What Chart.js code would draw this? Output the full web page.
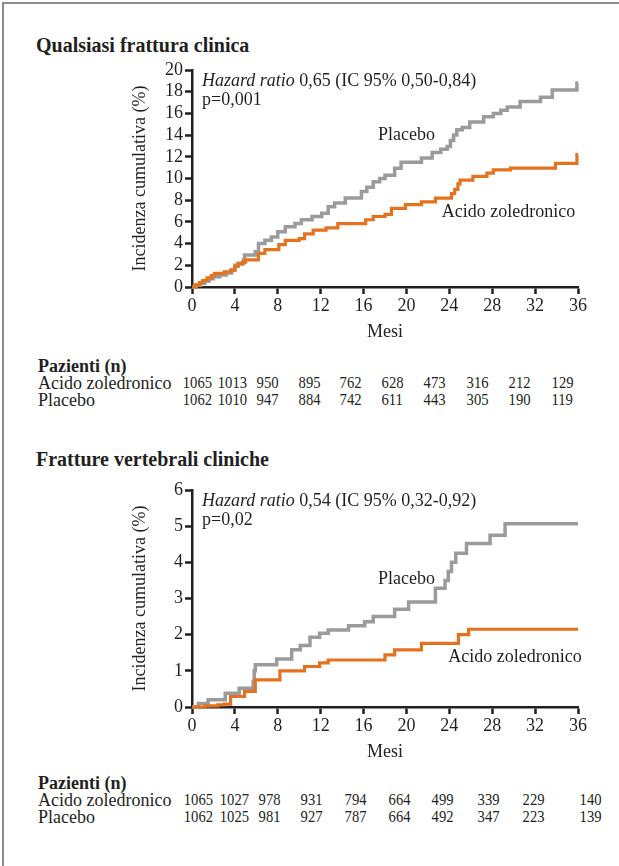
<!DOCTYPE html>
<html lang="it">
<head>
  <meta charset="UTF-8">
  <title>Incidenza cumulativa delle fratture</title>
  <script src="https://cdn.jsdelivr.net/npm/chart.js"></script>
  <style>
    body {
      margin: 0;
      background: #fff;
      font-family: 'Liberation Serif', 'Times New Roman', serif;
      color: #231f20;
    }
    .page {
      position: relative;
      width: 619px;
      height: 866px;
      overflow: hidden;
    }
    .frame {
      position: absolute;
      left: 2px;
      top: 2px;
      width: 640px;
      height: 900px;
      border-top: 2px solid #8c8c8c;
      border-left: 2px solid #8c8c8c;
    }
    .title {
      position: absolute;
      left: 36px;
      font-weight: bold;
      font-size: 20px;
      line-height: 20px;
      white-space: nowrap;
    }
    .chart {
      position: absolute;
      left: 0;
    }
    .row {
      position: absolute;
      left: 0;
      width: 619px;
      height: 18px;
      font-size: 18px;
      line-height: 18px;
      white-space: nowrap;
    }
    .row .lab {
      position: absolute;
      left: 38px;
    }
    .row .num {
      position: absolute;
      font-size: 17px;
      text-align: right;
      transform: scaleX(0.86);
      transform-origin: right center;
    }
    .row b {
      position: absolute;
      left: 38px;
    }
  </style>
</head>
<body>
<div class="page">
  <div class="frame"></div>

  <div class="title" style="top:35px">Qualsiasi frattura clinica</div>
  <canvas id="chart1" class="chart" style="top:0" width="619" height="345"></canvas>
  <div id="table1"></div>

  <div class="title" style="top:449px">Fratture vertebrali cliniche</div>
  <canvas id="chart2" class="chart" style="top:420px" width="619" height="345"></canvas>
  <div id="table2"></div>
</div>

<script>
  // --- Qualsiasi frattura clinica ---
  const anyMonthsZol = [0, 0.3, 0.7, 1.0, 1.4, 1.8, 2.1, 3.0, 3.6, 4.0, 4.3, 4.7, 5.0, 6.2, 6.8, 8.1, 8.7, 10.0, 10.5, 11.3, 12.5, 13.6, 16.2, 16.9, 18.0, 18.6, 19.9, 21.4, 22.7, 24.2, 24.5, 24.8, 25.0, 26.2, 27.5, 28.1, 29.7, 33.9, 35.9, 36];
  const anyZol       = [0, 0.2, 0.4, 0.6, 0.85, 1.05, 1.25, 1.4, 1.55, 1.9, 2.1, 2.3, 2.5, 3.1, 3.45, 3.9, 4.3, 4.45, 4.9, 5.25, 5.45, 5.85, 6.2, 6.5, 6.7, 7.25, 7.6, 7.85, 8.2, 8.6, 9.0, 9.5, 9.85, 10.2, 10.5, 10.8, 10.95, 11.4, 12.2, 12.2];
  const anyMonthsPla = [0, 0.4, 0.8, 1.2, 1.6, 2.0, 2.6, 3.2, 3.7, 4.0, 4.3, 4.8, 4.9, 5.9, 6.2, 6.8, 7.4, 8.0, 8.7, 9.6, 10.2, 11.2, 12.1, 12.7, 13.3, 14.3, 15.8, 16.3, 16.9, 17.5, 18.0, 18.9, 19.5, 21.4, 22.4, 23.2, 23.8, 24.1, 24.4, 24.7, 25.2, 25.9, 27.2, 28.1, 28.8, 29.4, 30.6, 32.5, 33.6, 35.9, 36];
  const anyPla       = [0, 0.15, 0.35, 0.55, 0.75, 0.95, 1.1, 1.3, 1.57, 2.0, 2.2, 2.5, 2.95, 3.25, 4.0, 4.3, 4.6, 5.1, 5.55, 5.85, 6.2, 6.5, 6.8, 7.4, 7.75, 8.2, 8.8, 9.2, 9.7, 10.0, 10.3, 10.95, 11.5, 11.9, 12.4, 12.7, 12.95, 13.5, 14.0, 14.5, 14.7, 15.2, 15.7, 16.0, 16.3, 16.6, 17.1, 17.5, 18.15, 18.8, 18.8];
  const anyRiskZol = [1065, 1013, 950, 895, 762, 628, 473, 316, 212, 129];
  const anyRiskPla = [1062, 1010, 947, 884, 742, 611, 443, 305, 190, 119];

  // --- Fratture vertebrali cliniche ---
  const vertMonthsZol = [0, 1.2, 2.4, 3.0, 3.6, 4.9, 5.9, 8.2, 10.5, 11.9, 12.7, 18.0, 18.9, 21.4, 24.85, 25.8, 36];
  const vertZol       = [0, 0.03, 0.06, 0.08, 0.29, 0.43, 0.75, 1.0, 1.12, 1.22, 1.3, 1.44, 1.58, 1.76, 2.0, 2.15, 2.15];
  const vertMonthsPla = [0, 0.6, 1.5, 3.1, 4.4, 5.7, 5.8, 5.9, 7.9, 9.3, 10.1, 11.0, 11.9, 12.7, 14.6, 16.1, 16.9, 18.9, 20.2, 22.7, 23.6, 23.9, 24.2, 24.6, 25.6, 27.8, 29.2, 36];
  const vertPla       = [0, 0.1, 0.2, 0.38, 0.52, 0.7, 1.0, 1.17, 1.33, 1.58, 1.7, 1.93, 2.04, 2.13, 2.25, 2.36, 2.5, 2.7, 2.9, 3.28, 3.5, 3.75, 4.0, 4.25, 4.52, 4.75, 5.07, 5.07];
  const vertRiskZol = [1065, 1027, 978, 931, 794, 664, 499, 339, 229, 140];
  const vertRiskPla = [1062, 1025, 981, 927, 787, 664, 492, 347, 223, 139];

  const monthTicks = [0, 4, 8, 12, 16, 20, 24, 28, 32, 36];

  const INK = '#231f20';
  const ORANGE = '#e5721f';
  const GREY = '#9b9b9d';
  const SERIF = "'Liberation Serif', 'Times New Roman', serif";

  function toPoints(xs, ys) {
    return xs.map((x, i) => ({ x: x, y: ys[i] }));
  }

  // text inside the plot: hazard ratio, p value and curve names
  const notesPlugin = {
    id: 'notes',
    afterDatasetsDraw(chart, args, opts) {
      const ctx = chart.ctx;
      const a = chart.chartArea;
      const xs = chart.scales.x, ys = chart.scales.y;
      ctx.save();
      ctx.fillStyle = INK;
      ctx.textBaseline = 'alphabetic';
      ctx.textAlign = 'left';
      ctx.font = 'italic 18px ' + SERIF;
      const x0 = a.left + 10;
      ctx.fillText('Hazard ratio', x0, a.top + 16);
      const w = ctx.measureText('Hazard ratio').width;
      ctx.font = '18px ' + SERIF;
      ctx.fillText(' ' + opts.hr, x0 + w, a.top + 16);
      ctx.fillText(opts.p, x0, a.top + 35);
      opts.labels.forEach(l => {
        ctx.fillText(l.text, xs.getPixelForValue(l.t), ys.getPixelForValue(l.v));
      });
      ctx.restore();
    }
  };

  function makeChart(id, zolX, zolY, plaX, plaY, yMax, yStep, notes) {
    const ctx = document.getElementById(id).getContext('2d');
    return new Chart(ctx, {
      type: 'line',
      data: {
        datasets: [{
          label: 'Acido zoledronico',
          data: toPoints(zolX, zolY),
          borderColor: ORANGE,
          borderWidth: 3.2,
          stepped: true,
          pointRadius: 0,
          fill: false,
          clip: 6
        }, {
          label: 'Placebo',
          data: toPoints(plaX, plaY),
          borderColor: GREY,
          borderWidth: 3.5,
          stepped: true,
          pointRadius: 0,
          fill: false,
          clip: 6
        }]
      },
      options: {
        responsive: false,
        animation: false,
        devicePixelRatio: 1,
        layout: { padding: { left: 120, right: 41, top: 70, bottom: 0 } },
        plugins: {
          legend: { display: false },
          tooltip: { enabled: false },
          notes: notes
        },
        scales: {
          x: {
            type: 'linear',
            min: 0,
            max: 36,
            afterFit: s => { s.height = 58; },
            afterBuildTicks: s => { s.ticks = monthTicks.map(v => ({ value: v })); },
            border: { display: true, color: INK, width: 2.5 },
            grid: { drawOnChartArea: false, drawTicks: true, tickLength: 7, tickWidth: 2.5, tickColor: INK },
            ticks: { color: INK, font: { family: SERIF, size: 18 }, padding: 1, maxRotation: 0, autoSkip: false },
            title: { display: true, text: 'Mesi', color: INK, font: { family: SERIF, size: 18 }, padding: { top: 0, bottom: 2 } }
          },
          y: {
            min: 0,
            max: yMax,
            afterFit: s => { s.width = 72; },
            border: { display: true, color: INK, width: 2.5 },
            grid: { drawOnChartArea: false, drawTicks: true, tickLength: 7, tickWidth: 2.5, tickColor: INK },
            ticks: { stepSize: yStep, autoSkip: false, color: INK, font: { family: SERIF, size: 18 }, padding: 2 },
            title: { display: true, text: 'Incidenza cumulativa (%)', color: INK, font: { family: SERIF, size: 18 }, padding: { top: 9, bottom: 0 } }
          }
        }
      },
      plugins: [notesPlugin]
    });
  }

  makeChart('chart1', anyMonthsZol, anyZol, anyMonthsPla, anyPla, 20, 2, {
    hr: '0,65 (IC 95% 0,50-0,84)',
    p: 'p=0,001',
    labels: [
      { text: 'Placebo', t: 17.35, v: 13.55 },
      { text: 'Acido zoledronico', t: 23.3, v: 6.42 }
    ]
  });

  makeChart('chart2', vertMonthsZol, vertZol, vertMonthsPla, vertPla, 6, 1, {
    hr: '0,54 (IC 95% 0,32-0,92)',
    p: 'p=0,02',
    labels: [
      { text: 'Placebo', t: 17.35, v: 3.4 },
      { text: 'Acido zoledronico', t: 23.9, v: 1.25 }
    ]
  });

  // at-risk tables (number of patients) below each chart
  function makeTable(id, top, rightEdges, zol, pla) {
    const host = document.getElementById(id);
    let html = '<div class="row" style="top:' + top + 'px"><b>Pazienti (n)</b></div>';
    [['Acido zoledronico', zol], ['Placebo', pla]].forEach((r, k) => {
      html += '<div class="row" style="top:' + (top + 17 * (k + 1)) + 'px"><span class="lab">' + r[0] + '</span>';
      r[1].forEach((n, i) => {
        html += '<span class="num" style="right:' + (619 - rightEdges[i]) + 'px">' + n + '</span>';
      });
      html += '</div>';
    });
    host.innerHTML = html;
  }

  makeTable('table1', 357, [212, 247, 278, 320, 361, 403, 445, 488, 530, 573], anyRiskZol, anyRiskPla);
  makeTable('table2', 774, [213, 249, 280, 322, 366, 410, 453, 499, 544, 601], vertRiskZol, vertRiskPla);
</script>
</body>
</html>
